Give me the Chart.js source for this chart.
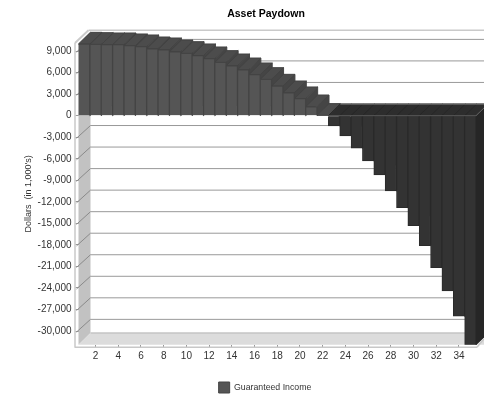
<!DOCTYPE html>
<html>
<head>
<meta charset="utf-8">
<title>Asset Paydown</title>
<script src="https://cdn.jsdelivr.net/npm/chart.js@4/dist/chart.umd.min.js"></script>
<style>
html, body { margin: 0; padding: 0; background: #fff; }
#wrap { width: 484px; height: 394px; }
</style>
</head>
<body>
<div id="wrap"><canvas id="paydownChart"></canvas></div>
<script>
const years = ['1','2','3','4','5','6','7','8','9','10','11','12','13','14','15','16','17','18','19','20','21','22','23','24','25','26','27','28','29','30','31','32','33','34','35'];
const income = [9980, 9935, 9890, 9890, 9750, 9610, 9330, 9190, 8910, 8680, 8360, 7940, 7430, 6960, 6400, 5710, 5060, 4130, 3200, 2370, 1250, 50,
    -1435, -2830, -4540, -6310, -8260, -10490, -12810, -15320, -18100, -21170, -24420, -27940, -31900];
const yTicks = [9000, 6000, 3000, 0, -3000, -6000, -9000, -12000, -15000, -18000, -21000, -24000, -27000, -30000];
const xTicks = ['2','4','6','8','10','12','14','16','18','20','22','24','26','28','30','32','34'];

// how far the box is pushed back
const DEPTH_X = 12;
const DEPTH_Y = 11.7;

function poly(ctx, pts, fill, stroke) {
    ctx.beginPath();
    pts.forEach((p, i) => i ? ctx.lineTo(p[0], p[1]) : ctx.moveTo(p[0], p[1]));
    ctx.closePath();
    if (fill) { ctx.fillStyle = fill; ctx.fill(); }
    if (stroke) { ctx.strokeStyle = stroke; ctx.lineWidth = 1; ctx.stroke(); }
}

function line(ctx, x1, y1, x2, y2, color, width) {
    ctx.beginPath();
    ctx.moveTo(x1, y1);
    ctx.lineTo(x2, y2);
    ctx.strokeStyle = color;
    ctx.lineWidth = width || 1;
    ctx.stroke();
}

// Walls, floor and grid of the 3d box
const boxPlugin = {
    id: 'box3d',
    afterLayout(chart) {
        // title and legend are centred on the plot, not the page
        chart.titleBlock.left += 28;
        chart.titleBlock.right += 28;
        chart.legend.left += 27;
        chart.legend.right += 27;
        chart.legend.top += 9;
        chart.legend.bottom += 9;
    },
    beforeDatasetsDraw(chart) {
        const { ctx, chartArea: a, scales } = chart;
        const dx = DEPTH_X, dy = DEPTH_Y, W = chart.width;
        const zero = scales.y.getPixelForValue(0);
        ctx.save();
        poly(ctx, [[a.left, a.top], [a.left + dx, a.top - dy], [a.left + dx, a.bottom - dy], [a.left, a.bottom]], '#c2c2c2');
        poly(ctx, [[a.left, a.bottom], [a.left + dx, a.bottom - dy], [W, a.bottom - dy], [W, a.bottom]], '#dcdcdc');
        line(ctx, a.left + dx, a.bottom - dy, W, a.bottom - dy, '#c4c4c4', 1.5);

        yTicks.forEach(v => {
            const y = scales.y.getPixelForValue(v);
            line(ctx, a.left + dx, y - dy, W, y - dy, '#999', 1);
            if (v !== 0) line(ctx, a.left - 2, y + 1, a.left + dx, y - dy, '#8a8a8a', 1);
        });

        // outer frame
        line(ctx, a.left - 3.5, a.top, a.left - 3.5, a.bottom + 3, '#c8c8c8', 1.5);
        line(ctx, a.left - 3.5, a.bottom + 2.5, a.right + 1, a.bottom + 2.5, '#c8c8c8', 1.5);
        line(ctx, a.left - 3.5, a.top, a.left + dx - 2, a.top - dy - 1, '#cacaca', 2);
        line(ctx, a.left + dx - 2, a.top - dy - 1, W, a.top - dy - 1, '#cacaca', 1.5);
        line(ctx, a.right + 1, a.bottom + 2.5, W, a.bottom - 6, '#c8c8c8', 1.5);

        // side and top of every bar, left to right so the next bar covers what is hidden
        const bars = chart.getDatasetMeta(0).data;
        bars.forEach((bar, i) => {
            const value = income[i];
            const l = bar.x - bar.width / 2, r = bar.x + bar.width / 2;
            const top = Math.min(bar.y, zero);
            const bot = Math.max(bar.y, zero);
            const sideFill = value < 0 ? '#262626' : '#454545';
            const topFill = value < 0 ? '#2d2d2d' : '#4c4c4c';
            const topLine = value < 0 ? '#262626' : '#424242';
            poly(ctx, [[r, top], [r + dx, top - dy], [r + dx, bot - dy], [r, bot]], sideFill, sideFill);
            poly(ctx, [[l, top], [l + dx, top - dy], [r + dx, top - dy], [r, top]], topFill, topLine);
        });

        // edge lines around the negative run
        const firstNeg = bars[income.findIndex(v => v < 0)];
        const negLeft = firstNeg.x - firstNeg.width / 2;
        line(ctx, negLeft + dx, zero - dy, W, zero - dy, '#8c8c8c', 1);
        ctx.restore();
    },
    afterDatasetsDraw(chart) {
        const { ctx, chartArea: a, scales } = chart;
        const zero = scales.y.getPixelForValue(0);
        const bars = chart.getDatasetMeta(0).data;
        const firstNeg = bars[income.findIndex(v => v < 0)];
        ctx.save();
        line(ctx, firstNeg.x - firstNeg.width / 2, zero, a.right, zero, '#5a5a5a', 1);
        line(ctx, a.right, zero, a.right + DEPTH_X, zero - DEPTH_Y, '#666', 1);
        ctx.restore();
    }
};

new Chart(document.getElementById('paydownChart'), {
    type: 'bar',
    plugins: [boxPlugin],
    data: {
        labels: years,
        datasets: [{
            label: 'Guaranteed Income',
            data: income,
            categoryPercentage: 1,
            barPercentage: 1,
            borderWidth: 1,
            backgroundColor: ctx => ctx.raw < 0 ? '#333333' : '#555555',
            borderColor: ctx => ctx.raw < 0 ? '#2a2a2a' : '#444444'
        }]
    },
    options: {
        responsive: true,
        maintainAspectRatio: false,
        animation: false,
        layout: { padding: { left: 0, right: 8, top: 0, bottom: 0 } },
        plugins: {
            tooltip: { enabled: false },
            title: {
                display: true,
                text: 'Asset Paydown',
                color: '#000',
                font: { family: '"Liberation Sans"', size: 10.5, weight: 'bold' },
                padding: { top: 8, bottom: 22.4 }
            },
            legend: {
                position: 'bottom',
                labels: {
                    color: '#333',
                    font: { family: '"Liberation Sans"', size: 8.75 },
                    boxWidth: 11,
                    boxHeight: 11,
                    padding: 2
                }
            }
        },
        scales: {
            x: {
                afterBuildTicks: ax => { ax.ticks = ax.ticks.filter(t => xTicks.includes(years[t.value])); },
                afterFit: ax => { ax.height = 26.3; },
                border: { display: false },
                grid: { drawOnChartArea: false, drawTicks: true, tickLength: 3, color: '#999', offset: false },
                ticks: {
                    autoSkip: false,
                    maxRotation: 0,
                    padding: 3,
                    color: '#333',
                    font: { family: '"Liberation Sans"', size: 10 }
                }
            },
            y: {
                min: -31900,
                max: 10125,
                afterBuildTicks: ax => { ax.ticks = yTicks.map(v => ({ value: v })); },
                afterFit: ax => { ax.width = 78.5; },
                border: { display: false },
                grid: { drawOnChartArea: false, drawTicks: true, tickLength: 3, color: '#999' },
                ticks: {
                    padding: 4,
                    color: '#333',
                    font: { family: '"Liberation Sans"', size: 10 },
                    callback: v => v.toLocaleString('en-US')
                },
                title: {
                    display: true,
                    text: "Dollars  (in 1,000's)",
                    color: '#333',
                    font: { family: '"Liberation Sans"', size: 9 },
                    padding: { top: 23, bottom: 0 }
                }
            }
        }
    }
});
</script>
</body>
</html>
